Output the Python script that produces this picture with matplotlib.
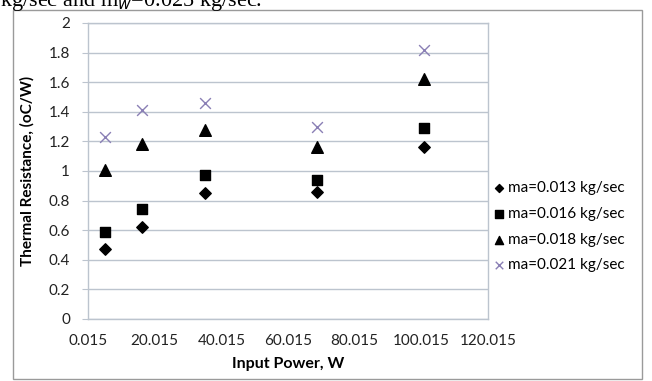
import matplotlib
matplotlib.use("Agg")
import matplotlib.pyplot as plt
from matplotlib.patches import Rectangle

plt.rcParams['font.family'] = ['Lato', 'DejaVu Sans']

W, H = 652, 381

power = [5.0, 16.3, 35.0, 68.6, 100.9]
r_013 = [0.47, 0.62, 0.85, 0.86, 1.16]
r_016 = [0.59, 0.74, 0.97, 0.94, 1.29]
r_018 = [1.01, 1.18, 1.28, 1.16, 1.62]
r_021 = [1.23, 1.41, 1.46, 1.30, 1.82]
labels = ["ma=0.013 kg/sec", "ma=0.016 kg/sec", "ma=0.018 kg/sec", "ma=0.021 kg/sec"]
xticks = [0.015, 20.015, 40.015, 60.015, 80.015, 100.015, 120.015]
xtick_labels = ["0.015", "20.015", "40.015", "60.015", "80.015", "100.015", "120.015"]
yticks = [0, 0.2, 0.4, 0.6, 0.8, 1, 1.2, 1.4, 1.6, 1.8, 2]
ytick_labels = ["0", "0.2", "0.4", "0.6", "0.8", "1", "1.2", "1.4", "1.6", "1.8", "2"]

fig = plt.figure(figsize=(W / 100, H / 100), dpi=100)

# outer chart frame
fig.patches.append(Rectangle((13 / W, 1 - 379 / H), (642 - 13) / W, (379 - 10) / H,
                             transform=fig.transFigure, fill=False,
                             edgecolor='#9a9a9a', lw=1.0))

# clipped caption text from the page above
fig.text(0.0, 1 - 6 / H, "kg/sec and m$_w$=0.025 kg/sec.", family='Liberation Serif',
         fontsize=16, va='baseline', ha='left', color='black')

ax = fig.add_axes([88 / W, 1 - 319 / H, 400 / W, 296 / H])
grid_c = '#bcc4ce'
ax.set_xlim(0.015, 120.015)
ax.set_ylim(0, 2)
ax.set_xticks(xticks)
ax.set_xticklabels(xtick_labels)
ax.set_yticks(yticks)
ax.set_yticklabels(ytick_labels)
ax.grid(axis='y', color=grid_c, lw=1.0)
ax.set_axisbelow(True)
for s in ['left', 'bottom', 'top', 'right']:
    ax.spines[s].set_color(grid_c)
    ax.spines[s].set_linewidth(1.0)
ax.tick_params(axis='y', length=4, color=grid_c, labelsize=11, pad=9, labelcolor='#222222')
ax.tick_params(axis='x', length=0, labelsize=11, pad=11, labelcolor='#222222')

h1 = ax.scatter(power, r_013, marker='D', s=34, color='black', label=labels[0])
h2 = ax.scatter(power, r_016, marker='s', s=60, color='black', label=labels[1])
h3 = ax.scatter(power, r_018, marker='^', s=70, color='black', label=labels[2])
h4 = ax.scatter(power, r_021, marker='x', s=60, color='#8a7fb5', linewidths=1.0, label=labels[3])

ax.set_xlabel("Input Power, W", fontsize=11.5, fontweight='bold', labelpad=6)
ax.set_ylabel("Thermal Resistance, (oC/W)", fontsize=11, fontweight='bold', labelpad=10)

leg = fig.legend(handles=[h1, h2, h3, h4], loc='upper left',
                 bbox_to_anchor=(481 / W, 1 - 167 / H), frameon=False,
                 fontsize=11, handlelength=0.55, handletextpad=0.3,
                 labelspacing=0.78, markerscale=0.7)

fig.savefig("out.png", dpi=100)
